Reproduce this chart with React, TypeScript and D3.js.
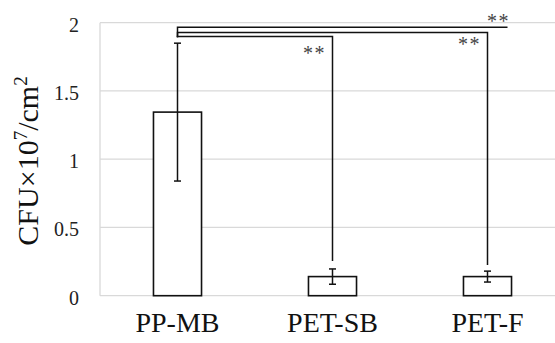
import React from "react";
import * as d3 from "d3";

const categories = ["PP-MB", "PET-SB", "PET-F"];
const means = [1.345, 0.14, 0.14];
const errors = [0.505, 0.056, 0.04];
const yTicks = [0, 0.5, 1, 1.5, 2];
const yTickLabels = ["0", "0.5", "1", "1.5", "2"];
// significance annotations: from category, to category, line level, leg end value
const sigFrom = ["PP-MB", "PP-MB", "PP-MB"];
const sigTo = ["PET-F", "PET-F", "PET-SB"];
const sigLevel = [1.966, 1.929, 1.898];
const sigLegEnd = [null, 0.225, 0.254];
const sigLabel = ["**", "**", "**"];

const W = 555;
const H = 343;

export default function App() {
  const x = d3.scaleBand<string>().domain(categories).range([100, 565]).paddingInner(0).paddingOuter(0);
  const y = d3.scaleLinear().domain([0, 2]).range([295.7, 22.7]);
  const bw = x.bandwidth() * 0.31;
  const cx = (c: string) => (x(c) as number) + x.bandwidth() / 2;
  const serif = "'Liberation Serif', 'Times New Roman', serif";
  const leftLegEnd = y(1.893);

  return (
    <svg width={W} height={H} style={{ position: "absolute", left: 0, top: 0, background: "#fff" }}>
      <rect x={0} y={0} width={W} height={H} fill="#fff" />
      {/* gridlines */}
      {yTicks.map((t, i) => (
        <line key={"g" + i} x1={100} x2={W} y1={y(t)} y2={y(t)} stroke="#d9d9d9" strokeWidth={1.3} />
      ))}
      <line x1={100} x2={100} y1={y(2)} y2={y(0)} stroke="#d9d9d9" strokeWidth={1.3} />
      {/* tick labels */}
      {yTicks.map((t, i) => (
        <text key={"t" + i} x={79} y={y(t) + 2} textAnchor="end" dominantBaseline="central"
          fontFamily={serif} fontSize={20} fill="#222">{yTickLabels[i]}</text>
      ))}
      {/* y label */}
      <text transform={`translate(38,161) rotate(-90)`} textAnchor="middle" fontFamily={serif} fontSize={30} fill="#111">
        CFU×10<tspan dy={-11} fontSize={19}>7</tspan><tspan dy={11}>/cm</tspan><tspan dy={-11} fontSize={19}>2</tspan>
      </text>
      {/* bars */}
      {categories.map((c, i) => (
        <rect key={"b" + i} x={cx(c) - bw / 2} y={y(means[i])} width={bw} height={y(0) - y(means[i])}
          fill="#fff" stroke="#111" strokeWidth={1.6} />
      ))}
      {/* error bars */}
      {categories.map((c, i) => {
        const hi = y(means[i] + errors[i]);
        const lo = y(means[i] - errors[i]);
        const xc = cx(c);
        return (
          <g key={"e" + i} stroke="#111" strokeWidth={1.5}>
            <line x1={xc} x2={xc} y1={hi} y2={lo} />
            <line x1={xc - 3.5} x2={xc + 3.5} y1={hi} y2={hi} />
            <line x1={xc - 3.5} x2={xc + 3.5} y1={lo} y2={lo} />
          </g>
        );
      })}
      {/* category labels */}
      {categories.map((c, i) => (
        <text key={"c" + i} x={cx(c)} y={332} textAnchor="middle" fontFamily={serif} fontSize={28} fill="#111">{c}</text>
      ))}
      {/* significance brackets */}
      {sigFrom.map((f, i) => {
        const x1 = cx(f);
        const x2 = cx(sigTo[i]);
        const yl = y(sigLevel[i]);
        const legEnd = sigLegEnd[i];
        const d = legEnd == null
          ? `M${x1},${leftLegEnd}L${x1},${yl}L${x2 + 20},${yl}`
          : `M${x1},${leftLegEnd}L${x1},${yl}L${x2},${yl}L${x2},${y(legEnd)}`;
        const lx = legEnd == null ? x2 + 11 : x2 - 18;
        const ly = legEnd == null ? yl + 0.5 : yl + (i === 2 ? 23 : 19);
        return (
          <g key={"s" + i}>
            <path d={d} fill="none" stroke="#111" strokeWidth={1.5} />
            <text x={lx} y={ly} textAnchor="middle" fontFamily={serif} fontSize={20} letterSpacing={1.5} fill="#444">{sigLabel[i]}</text>
          </g>
        );
      })}
    </svg>
  );
}
